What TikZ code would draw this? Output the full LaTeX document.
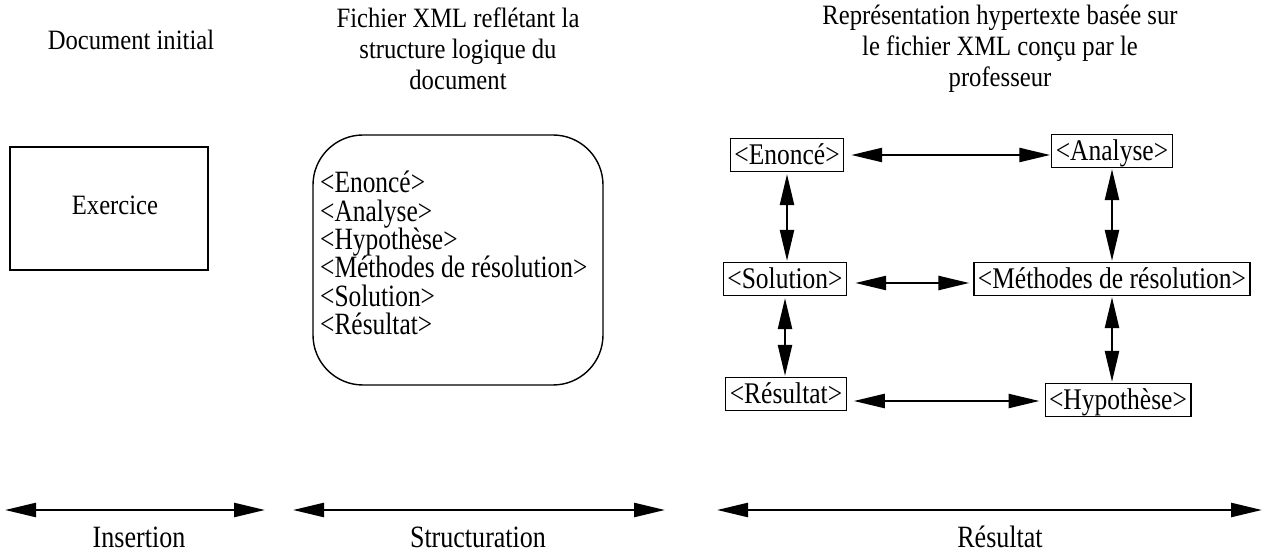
\documentclass[tikz,border=0pt]{standalone}
\usepackage{fontspec}
\setmainfont{Liberation Serif}[FakeStretch=0.82]
\newfontfamily\hdrfont{Liberation Serif}[FakeStretch=0.88]
\newfontfamily\lblfont{Liberation Serif}[FakeStretch=0.84]
\newfontfamily\tagfont{Liberation Serif}[FakeStretch=0.85]
\usetikzlibrary{arrows.meta}
\begin{document}
\begin{tikzpicture}[x=1pt,y=-1pt,
  hdr/.style={align=center,font=\hdrfont\fontsize{28}{31}\selectfont,inner sep=0pt},
  lbl/.style={font=\lblfont\fontsize{31}{31}\selectfont,inner sep=0pt},
  tag/.style={draw,line width=1.2pt,font=\tagfont\fontsize{30}{30}\selectfont,inner xsep=4pt,inner ysep=1pt,text height=25pt,text depth=6pt},
  dbl/.style={line width=2.4pt,{Triangle[length=31pt,width=14pt]}-{Triangle[length=31pt,width=14pt]}},
  box/.style={draw,line width=1.4pt}]
\useasboundingbox (0,0) rectangle (1264,553);
% headers
\node[hdr] (h1) at (131,40) {Document initial};
\node[hdr] (h2) at (458,49) {Fichier XML reflétant la\\structure logique du\\document};
\node[hdr] (h3) at (1000,49) {Représentation hypertexte basée sur\\le fichier XML conçu par le\\professeur};
% left box
\node[box,minimum width=198pt,minimum height=123pt] (exo) at (109,208.5) {};
\node[hdr] (exotxt) at (115,205) {Exercice};
% rounded box
\node[box,rounded corners=50pt,minimum width=290pt,minimum height=250pt] (xml) at (458,260) {};
\node[align=left,anchor=west,inner sep=0pt,font=\fontsize{31}{28.4}\selectfont] (xmltxt) at (320,253) {<Enoncé>\\<Analyse>\\<Hypothèse>\\<Méthodes de résolution>\\<Solution>\\<Résultat>};
% right graph
\node[tag] (en) at (787,155) {<Enoncé>};
\node[tag] (an) at (1112,151) {<Analyse>};
\node[tag] (so) at (785,279) {<Solution>};
\node[tag] (me) at (1112,279) {<Méthodes de résolution>};
\node[tag] (re) at (786,394) {<Résultat>};
\node[tag] (hy) at (1118,400) {<Hypothèse>};
\draw[dbl,shorten <=7pt,shorten >=1pt] (en.east |- 0,155) -- (an.west |- 0,155);
\draw[dbl,shorten <=2pt,shorten >=1pt] (en.south) -- (so.north -| en.south);
\draw[dbl,shorten <=1pt,shorten >=1pt] (an.south) -- (me.north -| an.south);
\draw[dbl,shorten <=8pt,shorten >=4pt] (so.east |- 0,283) -- (me.west |- 0,283);
\draw[dbl,shorten <=2pt,shorten >=1pt] (so.south) -- (re.north -| so.south);
\draw[dbl,shorten <=1pt,shorten >=1pt] (me.south -| an.south) -- (hy.north -| an.south);
\draw[dbl,shorten <=7pt,shorten >=5pt] (re.east |- 0,401) -- (hy.west |- 0,401);
% bottom
\coordinate (a1) at (5,510); \coordinate (b1) at (265,510);
\coordinate (a2) at (293,510); \coordinate (b2) at (665,510);
\coordinate (a3) at (717,510); \coordinate (b3) at (1262,510);
\draw[dbl] (a1) -- (b1);
\draw[dbl] (a2) -- (b2);
\draw[dbl] (a3) -- (b3);
\node[lbl] (l1) at (139,537) {Insertion};
\node[lbl] (l2) at (478,537) {Structuration};
\node[lbl] (l3) at (1000,537) {Résultat};
\end{tikzpicture}
\end{document}
